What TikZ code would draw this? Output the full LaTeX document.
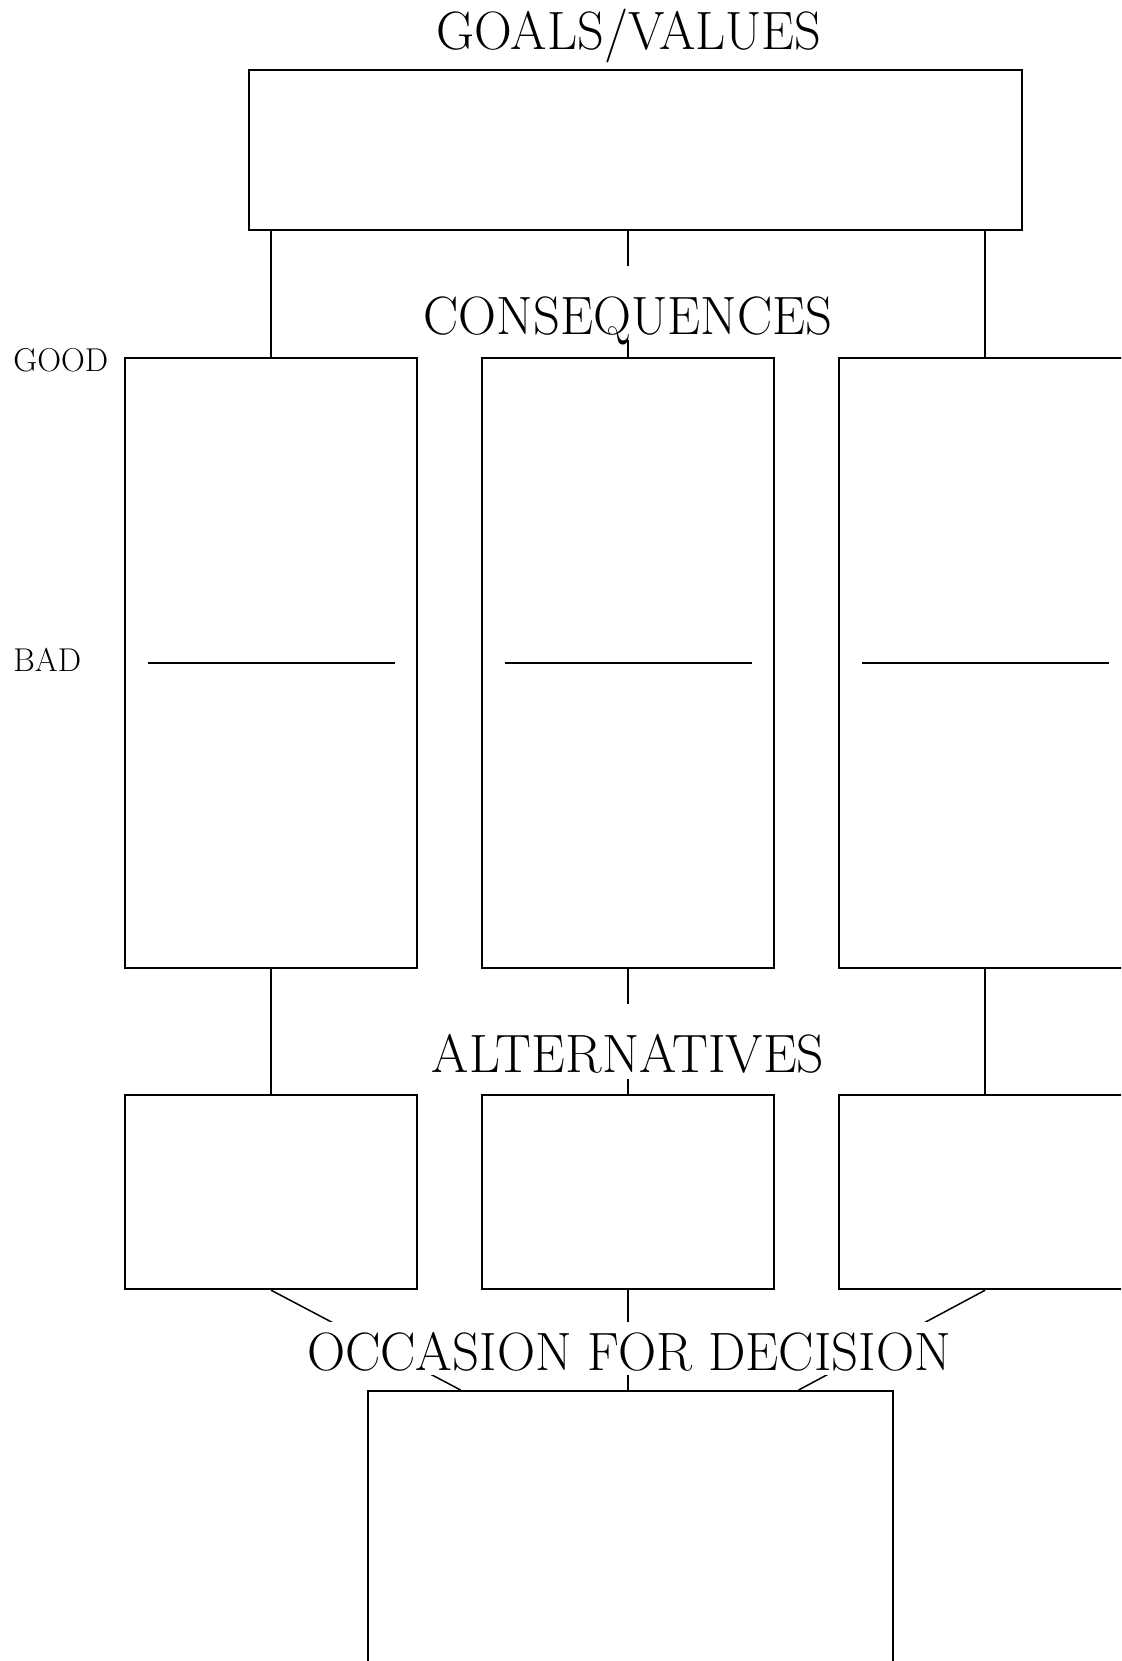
\documentclass[tikz,border=0pt]{standalone}
\usepackage{fontspec}
\begin{document}
\begin{tikzpicture}[x=0.5pt,y=-0.5pt,
  box/.style={draw,line width=1.1pt,inner sep=0pt,anchor=north west},
  conn/.style={line width=0.75pt},
  badline/.style={line width=1.1pt},
  title/.style={font=\fontsize{27pt}{30pt}\selectfont,inner ysep=0pt,inner xsep=0pt,anchor=base},
  gaplabel/.style={title,fill=white,inner xsep=3pt},
  side/.style={font=\fontsize{16.5pt}{19pt}\selectfont,inner sep=0pt,anchor=base west}]
\useasboundingbox (0,0) rectangle (1121,1661);
\clip (0,0) rectangle (1121,1661);
% boxes
\node[box,minimum width=386.5pt,minimum height=80pt] (goals) at (248,69) {};
\node[box,minimum width=146pt,minimum height=305pt] (c1) at (124,357) {};
\node[box,minimum width=146pt,minimum height=305pt] (c2) at (481,357) {};
\node[box,minimum width=146pt,minimum height=305pt] (c3) at (838,357) {};
\node[box,minimum width=146pt,minimum height=97pt] (a1) at (124,1094) {};
\node[box,minimum width=146pt,minimum height=97pt] (a2) at (481,1094) {};
\node[box,minimum width=146pt,minimum height=97pt] (a3) at (838,1094) {};
\node[box,minimum width=262.5pt,minimum height=200pt] (occ) at (367,1390) {};
% good/bad lines
\foreach \b in {c1,c2,c3}
  \draw[badline] ([xshift=12pt]\b.west) -- ([xshift=-11.5pt]\b.east);
% connectors
\foreach \b in {c1,c2,c3}
  \draw[conn] (goals.south -| \b.north) -- (\b.north);
\draw[conn] (c1.south) -- (a1.north);
\draw[conn] (c2.south) -- (a2.north);
\draw[conn] (c3.south) -- (a3.north);
\draw[conn] (a1.south) -- ([xshift=-85pt]occ.north);
\draw[conn] (a2.south) -- (a2.south |- occ.north);
\draw[conn] (a3.south) -- ([xshift=84pt]occ.north);
% labels
\node[title] (tgoals) at (629,49) {\scalebox{0.97}[1]{GOALS/VALUES}};
\node[gaplabel,text height=34pt,text depth=3pt] (tcons) at (628,334) {\scalebox{0.975}[1]{CONSEQUENCES}};
\node[gaplabel,text height=34pt,text depth=3.5pt] (talt) at (628,1072) {\scalebox{0.995}[1]{ALTERNATIVES}};
\node[gaplabel,text height=24pt,text depth=2.5pt] (tocc) at (629,1370) {\scalebox{0.98}[1]{OCCASION FOR DECISION}};
\node[side] (good) at (13,371) {GOOD};
\node[side] (bad) at (13,671) {BAD};
\end{tikzpicture}
\end{document}
